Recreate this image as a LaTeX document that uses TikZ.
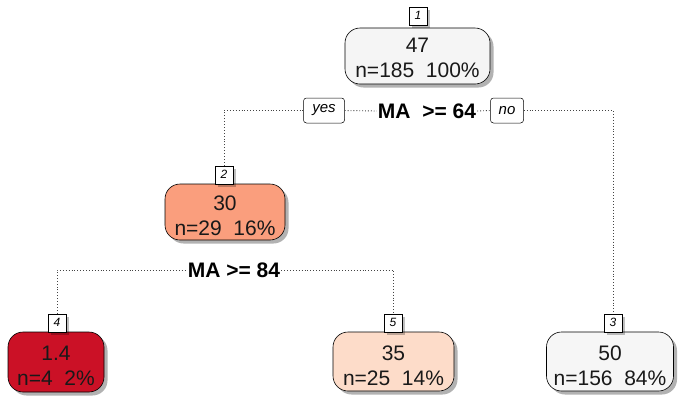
\documentclass[tikz,border=0pt]{standalone}
\usepackage{fontspec}
\setmainfont{Liberation Sans}
\usetikzlibrary{shadows}
\definecolor{cRoot}{HTML}{F5F5F5}
\definecolor{cTwo}{HTML}{FA9E7D}
\definecolor{cFour}{HTML}{CB1126}
\definecolor{cFive}{HTML}{FDDCC9}
\definecolor{cThree}{HTML}{F6F6F6}
\definecolor{lineC}{HTML}{444444}
\newcommand\lowr{\rule{0pt}{23pt}}
\tikzset{
  x=1pt, y=-1pt,
  leafbox/.style={draw=black, line width=0.6pt, rounded corners=15pt, align=center,
    inner sep=0pt, font=\fontsize{21}{25}\selectfont, text=black!90,
    drop shadow={shadow xshift=3.5pt, shadow yshift=-3.5pt, fill=black, opacity=0.3}},
  numbox/.style={draw=black, line width=0.5pt, fill=white, inner sep=0pt,
    minimum width=18pt, minimum height=18pt, font=\fontsize{12}{12}\selectfont\itshape,
    drop shadow={shadow xshift=3pt, shadow yshift=-3pt, fill=black, opacity=0.25}},
  yesno/.style={draw=black, line width=0.5pt, fill=white, rounded corners=3pt, inner sep=0pt,
    minimum height=25pt, font=\fontsize{15}{15}\selectfont\itshape},
  splitlbl/.style={font=\fontsize{21}{21}\selectfont\bfseries, inner sep=1pt},
  conn/.style={draw=lineC, line width=0.9pt, dotted},
}
\begin{document}
\begin{tikzpicture}
\useasboundingbox (0,0) rectangle (678,397);
\fill[white] (0,0) rectangle (678,397);

% nodes
\node[leafbox, fill=cRoot, minimum width=145pt, minimum height=56pt] (n1) at (417.5,56) {\rule{0pt}{18pt}47\\n=185\ \ 100\%};
\node[numbox, anchor=south] (l1) at (418,25) {1};

\node[leafbox, fill=cTwo, minimum width=120pt, minimum height=56pt] (n2) at (225,212) {\lowr 30\\n=29\ \ 16\%};
\node[numbox, anchor=south] (l2) at (224,184) {2};

\node[leafbox, fill=cFour, minimum width=96pt, minimum height=60pt] (n4) at (56,362) {\lowr 1.4\\n=4\ \ 2\%};
\node[numbox, anchor=south] (l4) at (57,332) {4};

\node[leafbox, fill=cFive, minimum width=121pt, minimum height=59pt] (n5) at (393.5,361.5) {\lowr 35\\n=25\ \ 14\%};
\node[numbox, anchor=south] (l5) at (393,332) {5};

\node[leafbox, fill=cThree, minimum width=127pt, minimum height=59pt] (n3) at (610,361.5) {\lowr 50\\n=156\ \ 84\%};
\node[numbox, anchor=south] (l3) at (613,332) {3};

% splits
\node[splitlbl] (s1) at (427,111) {MA\ \ >= 64};
\node[yesno, minimum width=41pt] (yes) at (324,110.5) {yes};
\node[yesno, minimum width=33pt] (no) at (507,110.5) {no};
\node[splitlbl] (s2) at (234,270) {MA >= 84};

% connectors
\draw[conn] (l2.north) |- (yes.west);
\draw[conn] (yes.east) -- (s1.west);
\draw[conn] (s1.east) -- (no.west);
\draw[conn] (no.east) -| (l3.north);
\draw[conn] (l4.north) |- (s2.west);
\draw[conn] (s2.east) -| (l5.north);
\end{tikzpicture}
\end{document}
